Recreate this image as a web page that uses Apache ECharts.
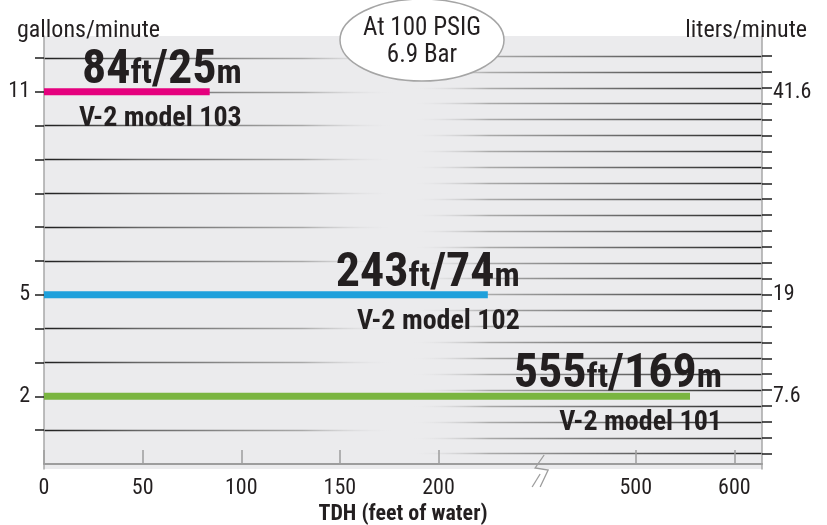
<!DOCTYPE html>
<html>
<head>
<meta charset="utf-8">
<title>V-2 flow vs head</title>
<script src="https://cdn.jsdelivr.net/npm/echarts@6/dist/echarts.min.js"></script>
<style>
html, body { margin: 0; padding: 0; background: #fff; }
#chart { width: 827px; height: 525px; }
</style>
</head>
<body>
<div id="chart"></div>
<script>
// values
const models = ['V-2 model 103', 'V-2 model 102', 'V-2 model 101'];
const flowGpm = [11, 5, 2];
const barFt = [84, 225, 555];      // where the bars end as drawn
const headFt = [84, 243, 555];     // labelled head
const headM = [25, 74, 169];
const barColors = ['#e5007e', '#1fa0db', '#7ab540'];
const gpmLabels = [2, 5, 11];
const lpmLabels = [7.6, 19, 41.6];
const ftTicks = [0, 50, 100, 150, 200, 500, 600];

// pick the narrowest installed sans we can find
function hasFont(name) {
    const ctx = document.createElement('canvas').getContext('2d');
    const s = 'abcdefghijklmnopqrstuvwxyz0123456789';
    ctx.font = '40px monospace';
    const w0 = ctx.measureText(s).width;
    ctx.font = "40px '" + name + "', monospace";
    return ctx.measureText(s).width !== w0;
}
const fontCandidates = ['Liberation Sans Narrow', 'Noto Sans Condensed', 'Roboto Condensed', 'Open Sans Condensed', 'DejaVu Sans Condensed'];
const pickedFont = fontCandidates.find(hasFont) || 'sans-serif';
const FONT = "'" + pickedFont + "', sans-serif";
const INK = '#231f20';

// broken x axis: 0..250 ft at full scale, beyond 400 ft at half scale
function toAxis(ft) { return ft <= 250 ? ft : 250 + (ft - 400) / 2; }
function fromAxis(v) { return v <= 250 ? v : 400 + (v - 250) * 2; }

const gridTop = 36, gridBottom = 469, gridLeft = 44, gridRight = 762;
const gpmMin = -0.15, gpmMax = 12.65;
const ppu = (gridBottom - gridTop) / (gpmMax - gpmMin);
function yPix(g) { return gridTop + (gpmMax - g) * ppu; }

const chart = echarts.init(document.getElementById('chart'), null, { renderer: 'canvas' });

const leftFade = new echarts.graphic.LinearGradient(gridLeft, 0, gridRight, 0, [
    { offset: 0, color: '#1e1e1e' },
    { offset: 0.13, color: '#666' },
    { offset: 0.36, color: '#a9a9a9' },
    { offset: 0.49, color: 'rgba(235,235,237,0)' },
    { offset: 1, color: 'rgba(235,235,237,0)' }
], true);
const rightFade = new echarts.graphic.LinearGradient(gridLeft, 0, gridRight, 0, [
    { offset: 0, color: 'rgba(235,235,237,0)' },
    { offset: 0.51, color: 'rgba(235,235,237,0)' },
    { offset: 0.62, color: '#aaa' },
    { offset: 0.86, color: '#555' },
    { offset: 1, color: '#1e1e1e' }
], true);

const bubble = [
    {
        type: 'ellipse', shape: { cx: 422, cy: 40, rx: 82, ry: 41 }, z: 10,
        style: { fill: '#fff', stroke: '#a5a5a5', lineWidth: 1.5 }
    },
    {
        type: 'text', x: 422, y: 42, z: 11,
        style: { text: 'At 100 PSIG\n6.9 Bar', align: 'center', verticalAlign: 'middle', font: '25px ' + FONT, lineHeight: 27, fill: INK }
    }
];

const plainGrid = { left: gridLeft, right: 827 - gridRight, outerBoundsMode: 'none', containLabel: false };

const option = {
    animation: false,
    title: [
        { text: 'gallons/minute', left: 12, top: 14, textStyle: { fontFamily: FONT, fontSize: 24, fontWeight: 'normal', color: INK } },
        { text: 'liters/minute', right: 15, top: 14, textStyle: { fontFamily: FONT, fontSize: 24, fontWeight: 'normal', color: INK } }
    ],
    grid: [
        Object.assign({ top: gridTop, bottom: 525 - gridBottom, show: true, backgroundColor: '#ebebed', borderWidth: 0 }, plainGrid),
        Object.assign({ top: yPix(12), bottom: 525 - yPix(1) }, plainGrid),
        Object.assign({ top: 56, bottom: 525 - 453.7 }, plainGrid)
    ],
    xAxis: [
        {
            gridIndex: 0, type: 'value', min: 0, max: 364, interval: 50,
            axisLine: { lineStyle: { color: '#9d9d9d', width: 2 } },
            axisTick: { inside: true, length: 14, customValues: ftTicks.map(toAxis), lineStyle: { color: '#9d9d9d', width: 1.5 } },
            axisLabel: {
                customValues: ftTicks.map(toAxis), margin: 8,
                fontFamily: FONT, fontSize: 22, color: INK,
                formatter: v => String(Math.round(fromAxis(v)))
            },
            splitLine: { show: false },
            name: 'TDH (feet of water)', nameLocation: 'middle', nameGap: 29,
            nameTextStyle: { fontFamily: FONT, fontSize: 22, fontWeight: 'bold', color: INK }
        },
        { gridIndex: 1, type: 'value', min: 0, max: 1, show: false },
        { gridIndex: 2, type: 'value', min: 0, max: 1, show: false }
    ],
    yAxis: [
        {
            gridIndex: 0, type: 'value', position: 'left', min: gpmMin, max: gpmMax,
            axisLine: { show: true, onZero: false, lineStyle: { color: '#a7a7a7', width: 1.5 } },
            axisTick: { show: false }, splitLine: { show: false },
            axisLabel: { customValues: gpmLabels, margin: 14, fontFamily: FONT, fontSize: 22, color: INK }
        },
        {
            gridIndex: 0, type: 'value', position: 'right', min: gpmMin * 3.785, max: gpmMax * 3.785,
            axisLine: { show: true, onZero: false, lineStyle: { color: '#a7a7a7', width: 1.5 } },
            axisTick: { show: false }, splitLine: { show: false },
            axisLabel: { customValues: lpmLabels, margin: 11, fontFamily: FONT, fontSize: 22, color: INK }
        },
        {
            gridIndex: 1, type: 'value', position: 'left', min: 1, max: 12, interval: 1,
            axisLine: { show: false, onZero: false }, axisLabel: { show: false },
            axisTick: { length: 9, lineStyle: { color: '#1e1e1e', width: 1.5 } },
            splitLine: { lineStyle: { color: leftFade, width: 1.3 } }
        },
        {
            gridIndex: 2, type: 'value', position: 'right', min: 0, max: 25, interval: 1,
            axisLine: { show: false, onZero: false }, axisLabel: { show: false },
            axisTick: { length: 10, lineStyle: { color: '#1e1e1e', width: 1.5 } },
            splitLine: { lineStyle: { color: rightFade, width: 1.3 } }
        }
    ],
    series: [{
        type: 'custom',
        xAxisIndex: 0, yAxisIndex: 0,
        z: 5,
        data: models.map((m, i) => [toAxis(barFt[i]), flowGpm[i]]),
        renderItem: function (params, api) {
            const i = params.dataIndex;
            const start = api.coord([0, api.value(1)]);
            const end = api.coord([api.value(0), api.value(1)]);
            return {
                type: 'group',
                children: [
                    {
                        type: 'rect',
                        shape: { x: start[0], y: start[1] - 3.5, width: end[0] - start[0], height: 7 },
                        style: { fill: barColors[i] }
                    },
                    {
                        type: 'text',
                        x: end[0] + 32, y: end[1] - 45,
                        style: {
                            text: '{n|' + headFt[i] + '}{u|ft}{n|/' + headM[i] + '}{u|m}\n{s|' + models[i] + '}',
                            align: 'right', verticalAlign: 'top',
                            rich: {
                                n: { fontFamily: FONT, fontSize: 48, fontWeight: 'bold', fill: INK, lineHeight: 48, verticalAlign: 'bottom' },
                                u: { fontFamily: FONT, fontSize: 34, fontWeight: 'bold', fill: INK, lineHeight: 38, verticalAlign: 'bottom', padding: [0, 0, 3.5, 0] },
                                s: { fontFamily: FONT, fontSize: 28, fontWeight: 'bold', fill: INK, lineHeight: 38, verticalAlign: 'bottom' }
                            }
                        }
                    }
                ]
            };
        }
    }],
    graphic: bubble
};
chart.setOption(option);

// axis break mark at the jump between 200 and 500
const bx = chart.convertToPixel({ xAxisIndex: 0 }, 250);
const by = gridBottom;
chart.setOption({
    graphic: bubble.concat([
        {
            type: 'polyline', z: 10,
            shape: { points: [[bx + 7, by - 14], [bx - 2, by - 1], [bx + 11, by + 1], [bx + 3, by + 18]] },
            style: { stroke: '#9d9d9d', lineWidth: 1.3, fill: null }
        },
        {
            type: 'line', z: 10,
            shape: { x1: bx + 3, y1: by + 5, x2: bx - 5, y2: by + 18 },
            style: { stroke: '#9d9d9d', lineWidth: 1.3 }
        }
    ])
});
</script>
</body>
</html>
